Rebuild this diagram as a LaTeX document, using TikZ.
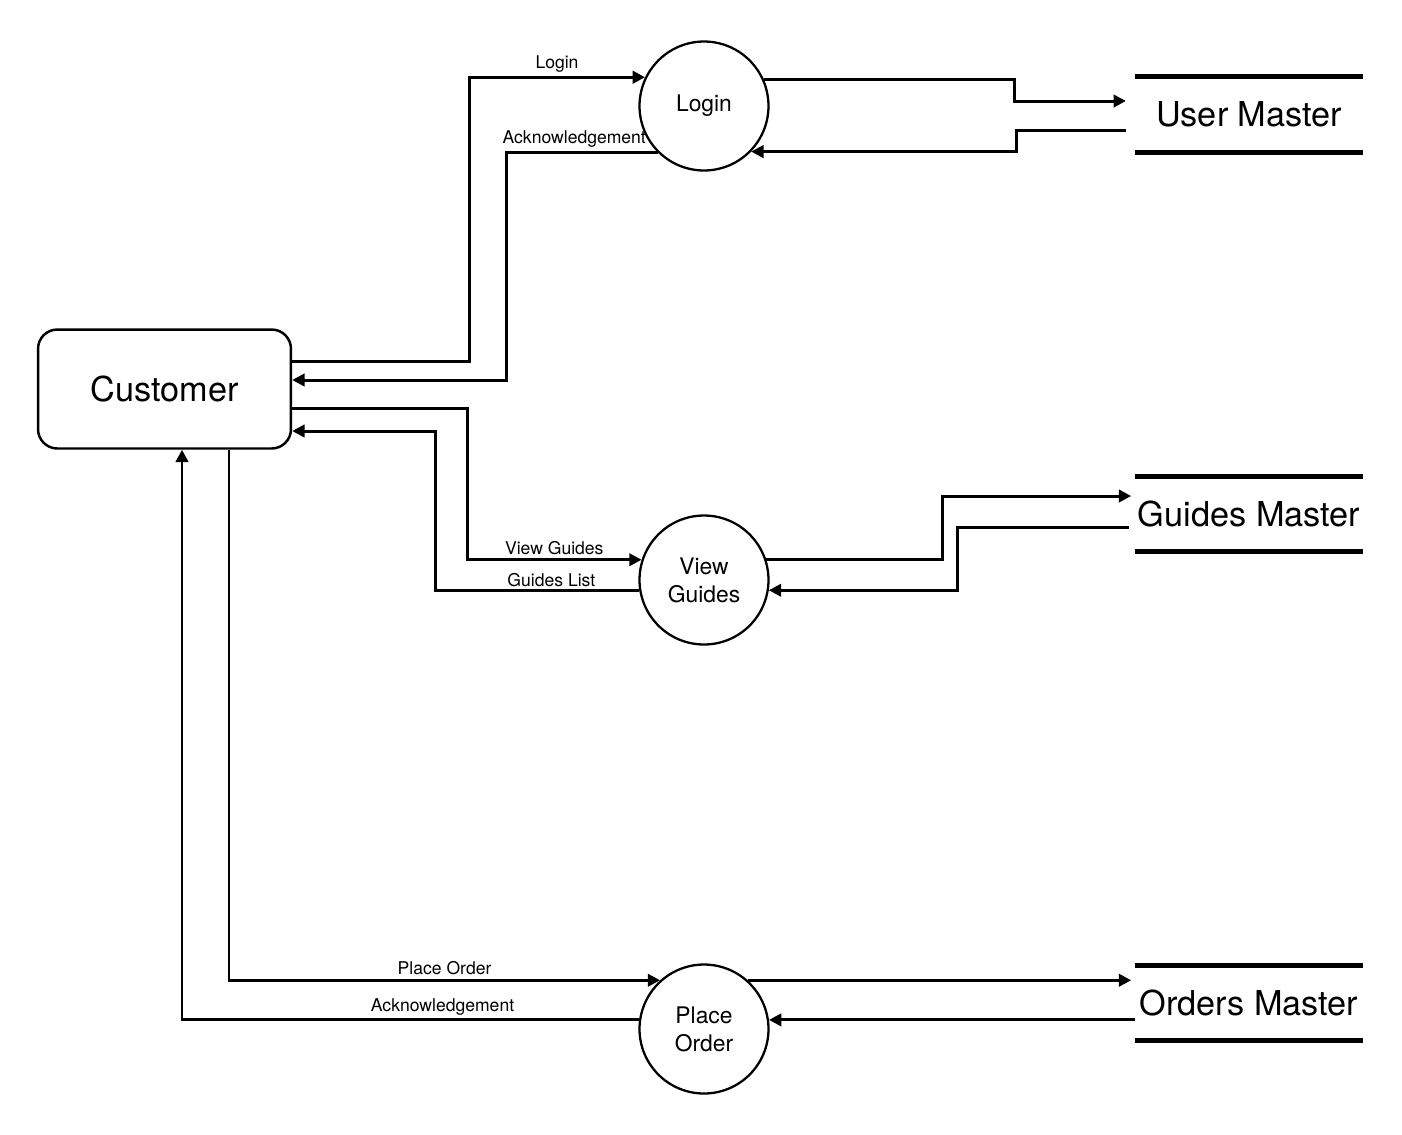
\documentclass[tikz,border=0pt]{standalone}
\usepackage{fontspec}
\setmainfont{TeX Gyre Heros}
\usetikzlibrary{positioning,arrows.meta,calc}

\begin{document}
\begin{tikzpicture}[x=0.02cm,y=-0.02cm,
  entnode/.style={draw,line width=1.4pt,rounded corners=11pt,
    minimum width=5.06cm,minimum height=2.38cm,font=\fontsize{19.5}{22}\selectfont},
  procnode/.style={draw,circle,line width=1.3pt,minimum size=2.58cm,
    inner sep=0pt,align=center,font=\fontsize{13}{16}\selectfont},
  storenode/.style={minimum width=4.56cm,minimum height=1.49cm,inner sep=0pt,
    font=\fontsize{19.5}{22}\selectfont},
  storeline/.style={line width=2.8pt},
  flow/.style={line width=1.7pt,-{Triangle[length=7pt,width=7pt]}},
  lbl/.style={font=\fontsize{10}{12}\selectfont,inner sep=2pt}]

  \useasboundingbox (0,0) rectangle (1402,1134);

  % entity, processes and stores
  \node[entnode] (cust) at (164.5,389) {Customer};

  \node[procnode] (login) at (704,106) {Login};
  \node[procnode] (view) at (704,580) {View\\Guides};
  \node[procnode] (order) at (704,1029) {Place\\Order};

  \node[storenode] (usr) at (1249,114.5) {User Master};
  \node[storenode] (gds) at (1249,514) {Guides Master};
  \node[storenode] (ord) at (1249,1003) {Orders Master};

  \foreach \s in {usr,gds,ord}
    \draw[storeline] (\s.north west) -- (\s.north east)
                     (\s.south west) -- (\s.south east);

  % login flows
  \draw[flow] (cust.east |- 0,361) -| (469,0 |- login.154) -- node[lbl,above]{Login} (login.154);
  \draw[flow] (login.225) -- node[lbl,above,pos=0.55]{Acknowledgement} (login.225 -| 506,0) |- (cust.east |- 0,380);
  \draw[flow,shorten >=5pt] (login.24) -| (1014,101) -- (usr.west |- 0,101);
  \draw[flow,shorten <=5pt] (usr.west |- 0,130) -| (1016,0 |- login.-44) -- (login.-44);

  % view guides flows
  \draw[flow] (cust.east |- 0,408) -| (467,0 |- view.162) -- node[lbl,above]{View Guides} (view.162);
  \draw[flow] (view.189) -- node[lbl,above,inner sep=1pt,pos=0.43]{Guides List} (view.189 -| 435,0) |- (cust.east |- 0,431);
  \draw[flow,shorten >=2pt] (view.18) -| (942,496) -- (gds.west |- 0,496);
  \draw[flow,shorten <=3pt] (gds.west |- 0,527) -| (957,0 |- view.-9) -- (view.-9);

  % place order flows
  \draw[flow] (cust.south -| 229,0) |- node[lbl,above,pos=0.75]{Place Order} (order.132);
  \draw[flow] (order.172) -| node[lbl,above,pos=0.215]{Acknowledgement} (cust.south -| 182,0);
  \draw[flow,shorten >=2pt] (order.48) -- (ord.west |- order.48);
  \draw[flow] (ord.west |- order.8) -- (order.8);
\end{tikzpicture}
\end{document}
